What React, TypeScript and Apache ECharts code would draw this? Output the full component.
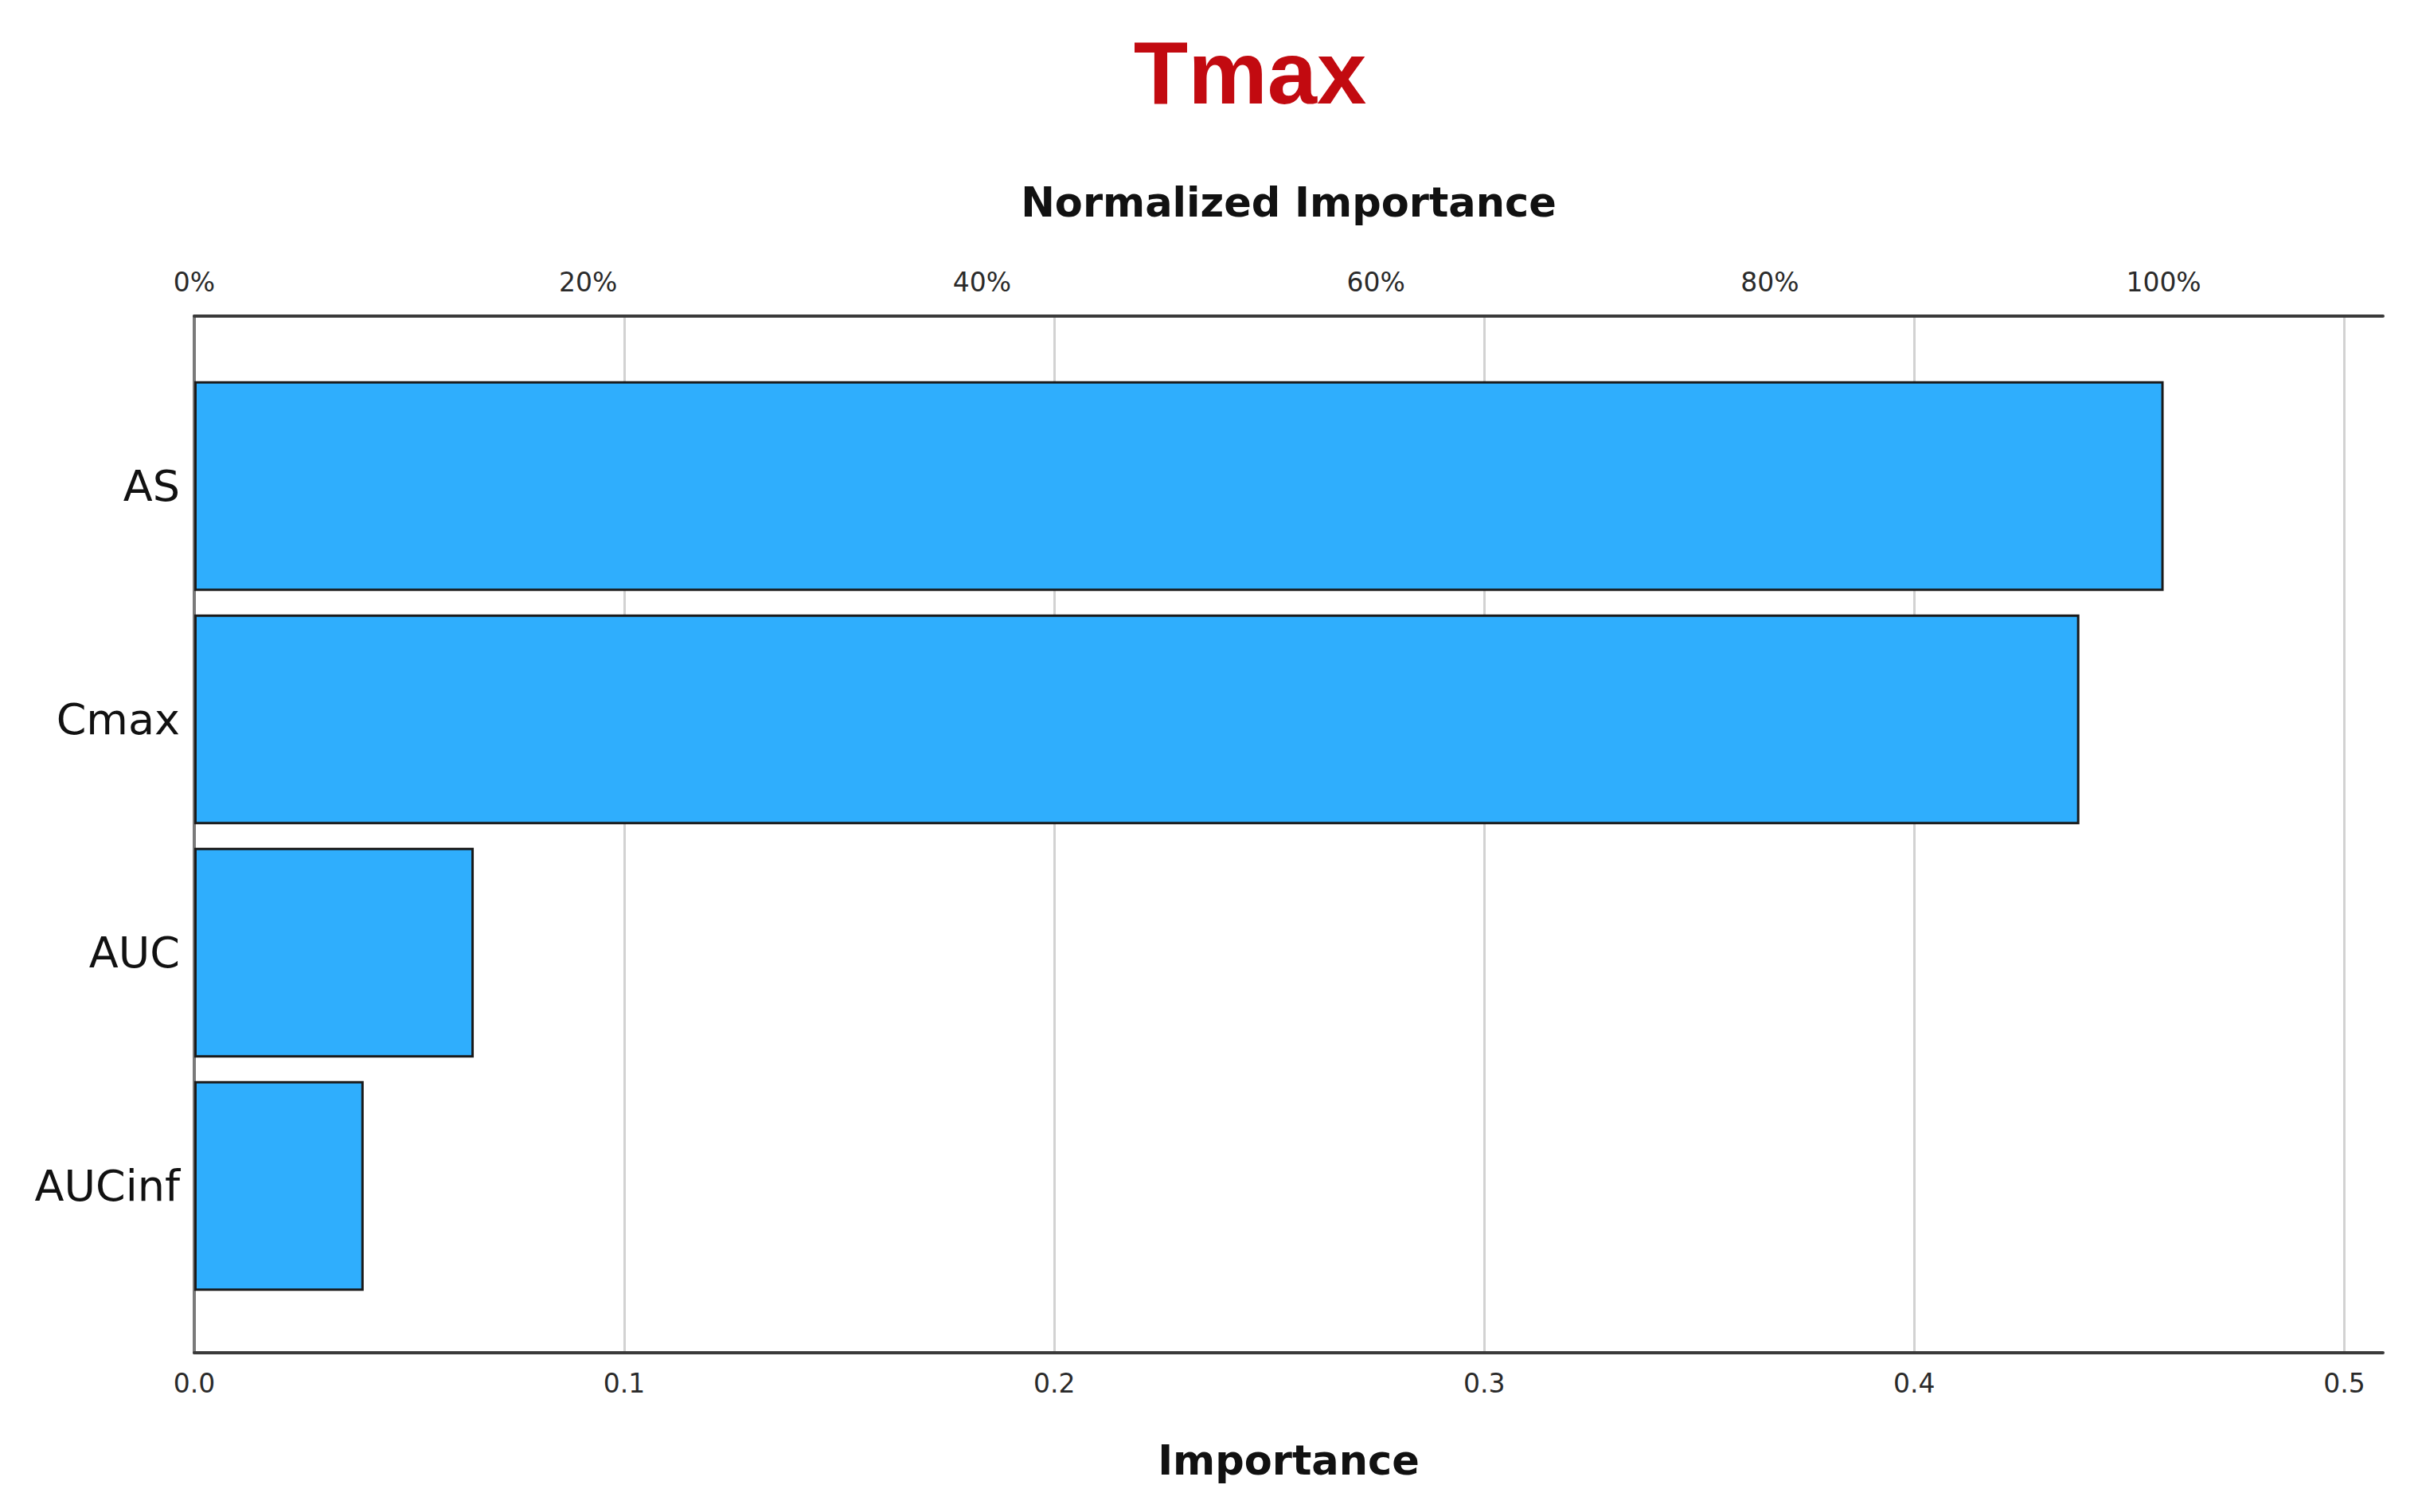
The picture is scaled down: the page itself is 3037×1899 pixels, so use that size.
import React, { useEffect, useRef } from "react";
import * as echarts from "echarts";

const categories = ["AS", "Cmax", "AUC", "AUCinf"];
const importance = [0.458, 0.4384, 0.065, 0.0394];
const importanceTicks = [0, 0.1, 0.2, 0.3, 0.4, 0.5];
const normalizedTicks = [0, 20, 40, 60, 80, 100];
const xMax = 0.509;

export default function App() {
  const ref = useRef<HTMLDivElement>(null);
  useEffect(() => {
    document.body.style.margin = "0";
    if (!ref.current) return;
    const chart = echarts.init(ref.current, null, { renderer: "svg" });
    const maxImp = Math.max(...importance);
    const normMax = (xMax / maxImp) * 100;
    const tickFont = "DejaVu Sans";
    chart.setOption({
      animation: false,
      backgroundColor: "#ffffff",
      title: {
        text: "Tmax",
        left: 1565,
        top: 30,
        textAlign: "center",
        textStyle: {
          fontFamily: "Liberation Sans",
          fontWeight: "bold",
          fontSize: 112,
          color: "#C20A10",
        },
      },
      grid: [
        { left: 244, right: 44, top: 397, bottom: 200 },
        { left: 244, right: 44, top: 464, bottom: 263 },
      ],
      xAxis: [
        {
          type: "value",
          gridIndex: 0,
          position: "bottom",
          min: 0,
          max: xMax,
          interval: 0.1,
          name: "Importance",
          nameLocation: "middle",
          nameGap: 110,
          nameTextStyle: {
            fontFamily: "DejaVu Sans",
            fontWeight: "bold",
            fontSize: 51,
            color: "#111",
          },
          axisLine: { show: true, lineStyle: { color: "#3a3a3a", width: 4 } },
          axisTick: { show: false },
          axisLabel: {
            margin: 22,
            fontFamily: tickFont,
            fontSize: 33,
            color: "#2a2a2a",
            showMaxLabel: false,
            formatter: (v: number) =>
              importanceTicks.some((t) => Math.abs(t - v) < 1e-9) ? v.toFixed(1) : "",
          },
          splitLine: {
            show: true,
            showMinLine: false,
            showMaxLine: false,
            lineStyle: { color: "#d2d2d2", width: 3 },
          },
        },
        {
          type: "value",
          gridIndex: 0,
          position: "top",
          min: 0,
          max: normMax,
          interval: 20,
          name: "Normalized Importance",
          nameLocation: "middle",
          nameGap: 117,
          nameTextStyle: {
            fontFamily: "DejaVu Sans",
            fontWeight: "bold",
            fontSize: 51,
            color: "#111",
          },
          axisLine: { show: true, lineStyle: { color: "#3a3a3a", width: 4 } },
          axisTick: { show: false },
          axisLabel: {
            margin: 26,
            fontFamily: tickFont,
            fontSize: 33,
            color: "#2a2a2a",
            showMaxLabel: false,
            formatter: (v: number) =>
              normalizedTicks.some((t) => Math.abs(t - v) < 1e-9) ? `${v}%` : "",
          },
          splitLine: { show: false },
        },
        {
          type: "value",
          gridIndex: 1,
          min: 0,
          max: xMax,
          show: false,
          splitLine: { show: false },
        },
      ],
      yAxis: [
        {
          type: "category",
          gridIndex: 0,
          data: categories,
          inverse: true,
          axisLine: { show: true, lineStyle: { color: "#7a7a7a", width: 4 } },
          axisTick: { show: false },
          axisLabel: { show: false },
          splitLine: { show: false },
        },
        {
          type: "category",
          gridIndex: 1,
          data: categories,
          inverse: true,
          axisLine: { show: false },
          axisTick: { show: false },
          axisLabel: {
            margin: 18,
            fontFamily: "DejaVu Sans",
            fontSize: 54,
            color: "#111",
          },
          splitLine: { show: false },
        },
      ],
      series: [
        {
          type: "bar",
          xAxisIndex: 2,
          yAxisIndex: 1,
          data: importance,
          barCategoryGap: "10%",
          itemStyle: {
            color: "#2FAEFD",
            borderColor: "#1a1a1a",
            borderWidth: 3,
          },
        },
      ],
    });
    return () => chart.dispose();
  }, []);
  return <div ref={ref} style={{ width: 3037, height: 1899 }} />;
}
